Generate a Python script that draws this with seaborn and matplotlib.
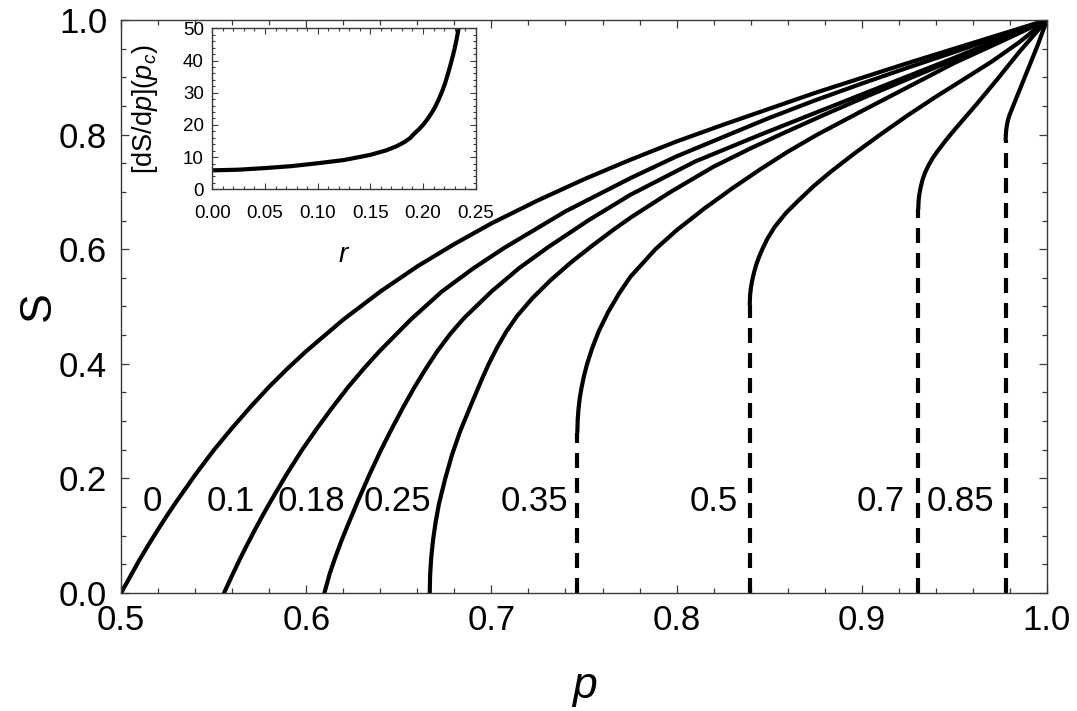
import numpy as np
import matplotlib
matplotlib.use("Agg")
import matplotlib.pyplot as plt
import seaborn as sns

# curve labels (value of r for each curve)
r_labels = ["0", "0.1", "0.18", "0.25", "0.35", "0.5", "0.7", "0.85"]

# S(p), one pair of lists per r
p_r000 = [0.500, 0.505, 0.510, 0.515, 0.520, 0.525, 0.530, 0.540, 0.550, 0.560, 0.570, 0.580, 0.590, 0.600,
          0.620, 0.640, 0.660, 0.680, 0.700, 0.725, 0.750, 0.775, 0.800, 0.825, 0.850, 0.875, 0.900, 0.925,
          0.950, 0.975, 1.000]
S_r000 = [0.000, 0.029, 0.058, 0.085, 0.111, 0.136, 0.160, 0.206, 0.249, 0.288, 0.325, 0.360, 0.392, 0.422,
          0.477, 0.526, 0.570, 0.609, 0.645, 0.685, 0.722, 0.756, 0.788, 0.817, 0.845, 0.873, 0.899, 0.925,
          0.950, 0.975, 1.000]

p_r010 = [0.5556, 0.5596, 0.5640, 0.5682, 0.5724, 0.5766, 0.5808, 0.5892, 0.5976, 0.6060, 0.6144, 0.6228,
          0.6312, 0.6396, 0.6564, 0.6732, 0.6900, 0.7068, 0.7400, 0.7751, 0.8000, 0.8283, 0.850, 0.875,
          0.900, 0.925, 0.950, 0.975, 1.000]
S_r010 = [0.000, 0.028, 0.058, 0.085, 0.111, 0.136, 0.160, 0.206, 0.249, 0.288, 0.325, 0.360,
          0.392, 0.422, 0.477, 0.526, 0.566, 0.602, 0.666, 0.724, 0.762, 0.800, 0.829, 0.860,
          0.889, 0.917, 0.944, 0.972, 1.000]

p_r018 = [0.6098, 0.6128, 0.6159, 0.6189, 0.6220, 0.6281, 0.6342, 0.6403, 0.6464, 0.6525, 0.6586, 0.6647,
          0.6708, 0.678, 0.685, 0.700, 0.715, 0.7304, 0.7527, 0.7751, 0.810, 0.8454, 0.875, 0.900, 0.925,
          0.950, 0.975, 1.000]
S_r018 = [0.000, 0.035, 0.064, 0.090, 0.115, 0.162, 0.207, 0.249, 0.288, 0.325, 0.360, 0.392,
          0.422, 0.453, 0.479, 0.526, 0.567, 0.603, 0.651, 0.695, 0.753, 0.800, 0.838, 0.870, 0.902,
          0.934, 0.967, 1.000]

p_r025 = [0.6667, 0.6669, 0.6675, 0.6685, 0.6699, 0.6717, 0.6751, 0.6787, 0.6832, 0.6887, 0.6947, 0.6986,
          0.703, 0.708, 0.714, 0.722, 0.732, 0.743, 0.7544, 0.7651, 0.7751, 0.7968, 0.820, 0.840, 0.858,
          0.880, 0.900, 0.925, 0.950, 0.975, 1.000]
S_r025 = [0.000, 0.031, 0.062, 0.093, 0.124, 0.156, 0.200, 0.241, 0.283, 0.326, 0.372, 0.400,
          0.428, 0.456, 0.484, 0.514, 0.546, 0.577, 0.606, 0.632, 0.655, 0.700, 0.744, 0.776, 0.803,
          0.835, 0.863, 0.897, 0.931, 0.965, 1.000]

p_r035 = [0.7464, 0.7466, 0.7470, 0.7477, 0.7487, 0.7500, 0.7517, 0.7545, 0.758, 0.763, 0.769, 0.7751,
          0.7886, 0.800, 0.815, 0.830, 0.845, 0.860, 0.876, 0.900, 0.925, 0.950, 0.975, 1.000]
S_r035 = [0.280, 0.303, 0.320, 0.340, 0.359, 0.379, 0.400, 0.428, 0.457, 0.490, 0.523, 0.552,
          0.600, 0.633, 0.671, 0.706, 0.739, 0.770, 0.800, 0.841, 0.883, 0.925, 0.962, 1.000]

p_r050 = [0.8395, 0.8397, 0.8401, 0.8408, 0.8418, 0.8431, 0.8446, 0.8463, 0.849, 0.853, 0.859, 0.8652,
          0.874, 0.8832, 0.896, 0.910, 0.925, 0.940, 0.9553, 0.970, 0.985, 1.000]
S_r050 = [0.503, 0.520, 0.532, 0.545, 0.559, 0.574, 0.587, 0.600, 0.618, 0.639, 0.663, 0.683,
          0.710, 0.735, 0.767, 0.800, 0.834, 0.866, 0.897, 0.927, 0.961, 1.000]

p_r070 = [0.9305, 0.9307, 0.9311, 0.9318, 0.9328, 0.9341, 0.9360, 0.9383, 0.9409, 0.9454, 0.950, 0.9553,
          0.962, 0.9733, 0.985, 1.000]
S_r070 = [0.670, 0.685, 0.696, 0.708, 0.721, 0.733, 0.746, 0.759, 0.771, 0.790, 0.808, 0.828,
          0.853, 0.897, 0.944, 1.000]

p_r085 = [0.9777, 0.9778, 0.9780, 0.9784, 0.9790, 0.9798, 0.9810, 0.9830, 0.9860, 0.9900, 0.9950, 1.000]
S_r085 = [0.791, 0.800, 0.808, 0.817, 0.826, 0.834, 0.844, 0.860, 0.884, 0.916, 0.956, 1.000]

curves_p = [p_r000, p_r010, p_r018, p_r025, p_r035, p_r050, p_r070, p_r085]
curves_S = [S_r000, S_r010, S_r018, S_r025, S_r035, S_r050, S_r070, S_r085]

# inset: slope at p_c against r
r_inset = [0.0, 0.025, 0.05, 0.075, 0.10, 0.125, 0.15, 0.165, 0.175, 0.183, 0.188, 0.192, 0.196, 0.20,
           0.204, 0.208, 0.2115, 0.2146, 0.218, 0.2209, 0.2235, 0.2256, 0.2278, 0.2297, 0.2317, 0.2335, 0.2345]
slope_inset = [5.9, 6.1, 6.6, 7.2, 8.1, 9.1, 10.7, 12.1, 13.4, 14.8, 16.0, 17.4, 18.6, 20.0,
               21.7, 23.6, 25.6, 27.7, 30.3, 32.9, 35.7, 38.1, 40.8, 43.3, 46.3, 49.5, 51.2]

# where the curve labels sit
label_x = [0.517, 0.5595, 0.6027, 0.6494, 0.7234, 0.8201, 0.9102, 0.9535]
label_y = 0.159

sns.set_theme(style="ticks")
plt.rcParams['font.family'] = ['Liberation Sans', 'DejaVu Sans']
plt.rcParams['mathtext.fontset'] = 'custom'
plt.rcParams['mathtext.rm'] = 'Liberation Sans'
plt.rcParams['mathtext.it'] = 'Liberation Sans:italic'
plt.rcParams['axes.edgecolor'] = '#3a3a3a'
plt.rcParams['axes.linewidth'] = 1.0
plt.rcParams['text.color'] = 'black'
plt.rcParams['axes.labelcolor'] = 'black'

fig = plt.figure(figsize=(10.77, 7.11), dpi=100)
ax = fig.add_axes([0.1124, 0.166, 0.8597, 0.8059])

lw = 3.0
for p, S in zip(curves_p, curves_S):
    sns.lineplot(x=p, y=S, ax=ax, color='black', lw=lw, sort=False, estimator=None)
    if S[0] > 0:
        # discontinuous jump shown dashed
        ax.plot([p[0], p[0]], [0, S[0]], color='black', lw=lw, linestyle=(0, (3.6, 2.4)))

for lx, lbl in zip(label_x, r_labels):
    ax.text(lx, label_y, lbl, ha='center', va='center', fontsize=25, color='black')

ax.set_xlim(0.5, 1.0)
ax.set_ylim(0.0, 1.0)
ax.set_xticks(np.arange(0.5, 1.001, 0.1))
ax.set_xticks(np.arange(0.5, 1.001, 0.02), minor=True)
ax.set_yticks(np.arange(0.0, 1.001, 0.2))
ax.set_yticks(np.arange(0.0, 1.001, 0.05), minor=True)
ax.xaxis.set_major_formatter(matplotlib.ticker.FormatStrFormatter('%.1f'))
ax.yaxis.set_major_formatter(matplotlib.ticker.FormatStrFormatter('%.1f'))
ax.tick_params(which='both', direction='in', top=True, right=True, color='#3a3a3a', width=0.9,
               labelcolor='black')
ax.tick_params(which='major', length=6, labelsize=25)
ax.tick_params(axis='x', which='major', pad=8)
ax.tick_params(axis='y', which='major', pad=10)
ax.tick_params(which='minor', length=3.5)
ax.set_xlabel('$p$', fontsize=32, labelpad=22)
ax.set_ylabel('S', fontsize=32, labelpad=0)

# inset
axin = fig.add_axes([0.1971, 0.7337, 0.2446, 0.2265])
axin.set_facecolor('white')
sns.lineplot(x=r_inset, y=slope_inset, ax=axin, color='black', lw=lw, sort=False, estimator=None)
axin.set_xlim(0, 0.25)
axin.set_ylim(0, 50)
axin.set_xticks(np.arange(0, 0.2501, 0.05))
axin.set_xticks(np.arange(0, 0.2501, 0.01), minor=True)
axin.set_yticks(np.arange(0, 50.1, 10))
axin.set_yticks(np.arange(0, 50.1, 2), minor=True)
axin.xaxis.set_major_formatter(matplotlib.ticker.FormatStrFormatter('%.2f'))
axin.tick_params(which='both', direction='in', top=True, right=True, color='#3a3a3a', width=0.8,
                 labelcolor='black')
axin.tick_params(which='major', length=4, labelsize=13.5)
axin.tick_params(axis='x', which='major', pad=11)
axin.tick_params(axis='y', which='major', pad=6)
axin.tick_params(which='minor', length=2)
axin.set_xlabel('$r$', fontsize=20, labelpad=15)
axin.set_ylabel(r'$[\mathrm{dS/d}p](p_c)$', fontsize=19.5)
axin.yaxis.set_label_coords(-0.2, 0.5)

fig.savefig('out.png', dpi=100)
